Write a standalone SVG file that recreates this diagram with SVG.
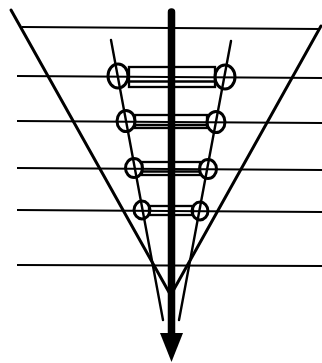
<svg xmlns="http://www.w3.org/2000/svg" width="322" height="363" viewBox="0 0 322 363">
<style>
.h{stroke:#000;stroke-width:1.8;fill:none}
.v{stroke:#000;stroke-width:3;fill:none;stroke-linecap:round}
.i{stroke:#000;stroke-width:2.4;fill:none;stroke-linecap:round}
.c{stroke:#000;stroke-width:3;fill:none}
.r{stroke:#000;stroke-width:2.3;fill:none}
</style>
<rect width="322" height="363" fill="#fff"/>
<g id="levels">
<line class="h" x1="22" y1="27" x2="320" y2="29"/>
<line class="h" x1="17" y1="76" x2="322" y2="78"/>
<line class="h" x1="17" y1="121" x2="322" y2="123"/>
<line class="h" x1="17" y1="168" x2="322" y2="170"/>
<line class="h" x1="17" y1="210" x2="322" y2="212"/>
<line class="h" x1="17" y1="265" x2="322" y2="266"/>
</g>
<g id="connectors">
<line class="v" x1="11" y1="10" x2="170" y2="294"/>
<line class="v" x1="321" y1="26" x2="173" y2="291"/>
<line class="i" x1="111" y1="40" x2="163" y2="320"/>
<line class="i" x1="231" y1="41" x2="179" y2="320"/>
</g>
<g id="rung1">
<rect class="r" x="129" y="67" width="86" height="20"/>
<line class="r" x1="129" y1="81.5" x2="215" y2="81.5"/>
<ellipse class="c" cx="118" cy="76" rx="10" ry="12"/>
<ellipse class="c" cx="225" cy="77" rx="10" ry="12"/>
</g>
<g id="rung2">
<rect class="r" x="135" y="115" width="72" height="13"/>
<line class="r" x1="135" y1="125" x2="207" y2="125"/>
<ellipse class="c" cx="126" cy="121" rx="9" ry="10.5"/>
<ellipse class="c" cx="216" cy="122" rx="9" ry="10.5"/>
</g>
<g id="rung3">
<rect class="r" x="142" y="162" width="58" height="13"/>
<line class="r" x1="142" y1="171.5" x2="200" y2="171.5"/>
<ellipse class="c" cx="134" cy="168" rx="8.5" ry="9.5"/>
<ellipse class="c" cx="208" cy="169" rx="8.5" ry="9.5"/>
</g>
<g id="rung4">
<rect class="r" x="149" y="206" width="44" height="9"/>
<ellipse class="c" cx="142" cy="210" rx="8" ry="9"/>
<ellipse class="c" cx="200" cy="211" rx="8" ry="9"/>
</g>
<g id="arrow">
<line x1="171.5" y1="12" x2="171.5" y2="336" stroke="#000" stroke-width="7.5" stroke-linecap="round"/>
<polygon points="160,333 183,333 171.5,362" fill="#000"/>
</g>
</svg>
